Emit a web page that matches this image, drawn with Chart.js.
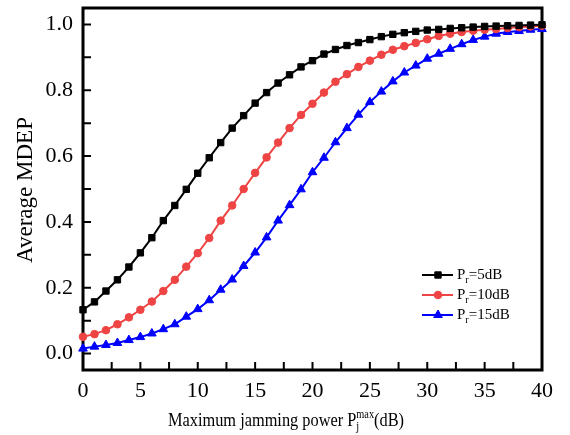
<!DOCTYPE html>
<html>
<head>
<meta charset="utf-8">
<script src="https://cdn.jsdelivr.net/npm/chart.js@4.4.1/dist/chart.umd.min.js"></script>
<style>
  html, body { margin: 0; padding: 0; background: #fff; }
  #wrap { width: 570px; height: 435px; position: relative; }
</style>
</head>
<body>
<div id="wrap"><canvas id="chart"></canvas></div>
<script>
// x: maximum jamming power (dB)
const jamPower = [0, 1, 2, 3, 4, 5, 6, 7, 8, 9, 10, 11, 12, 13, 14, 15, 16, 17, 18, 19, 20,
  21, 22, 23, 24, 25, 26, 27, 28, 29, 30, 31, 32, 33, 34, 35, 36, 37, 38, 39, 40];

// average MDEP
const mdepPr5 = [0.133, 0.157, 0.190, 0.224, 0.263, 0.306, 0.352, 0.404, 0.450, 0.499, 0.548,
  0.595, 0.641, 0.685, 0.723, 0.761, 0.793, 0.822, 0.847, 0.871, 0.890,
  0.910, 0.924, 0.936, 0.945, 0.954, 0.963, 0.970, 0.975, 0.979, 0.983,
  0.985, 0.988, 0.990, 0.992, 0.994, 0.995, 0.996, 0.997, 0.998, 0.999];
const mdepPr10 = [0.051, 0.059, 0.071, 0.089, 0.110, 0.133, 0.158, 0.190, 0.224, 0.264, 0.305,
  0.351, 0.404, 0.450, 0.500, 0.549, 0.596, 0.641, 0.685, 0.725, 0.759,
  0.793, 0.826, 0.849, 0.871, 0.890, 0.908, 0.923, 0.934, 0.944, 0.955,
  0.965, 0.972, 0.977, 0.981, 0.984, 0.986, 0.989, 0.992, 0.994, 0.996];
const mdepPr15 = [0.015, 0.021, 0.026, 0.032, 0.041, 0.050, 0.061, 0.074, 0.089, 0.112, 0.135,
  0.162, 0.194, 0.225, 0.266, 0.307, 0.353, 0.404, 0.451, 0.499, 0.551,
  0.595, 0.642, 0.685, 0.726, 0.764, 0.796, 0.827, 0.854, 0.875, 0.896,
  0.911, 0.926, 0.940, 0.953, 0.963, 0.972, 0.977, 0.980, 0.984, 0.986];

const seriesNames = ["5dB", "10dB", "15dB"];
const xTickValues = [0, 5, 10, 15, 20, 25, 30, 35, 40];
const yTickValues = [0, 0.2, 0.4, 0.6, 0.8, 1.0];

const serif = "'Liberation Serif', 'Times New Roman', serif";

const toPoints = (ys) => jamPower.map((x, i) => ({ x: x, y: ys[i] }));

function makeSet(name, values, color, style, radius) {
  return {
    label: name,
    data: toPoints(values),
    borderColor: color,
    backgroundColor: color,
    borderWidth: 2,
    pointStyle: style,
    pointRadius: radius,
    pointBorderWidth: 1,
    pointBackgroundColor: color,
    pointBorderColor: color,
    tension: 0,
    clip: false
  };
}

// box + inward tick marks, drawn under the lines
const frame = {
  id: "frame",
  beforeDatasetsDraw(chart) {
    const { ctx, chartArea: a, scales: { x, y } } = chart;
    ctx.save();
    ctx.strokeStyle = "#000";
    ctx.lineWidth = 2;
    ctx.beginPath();
    for (let v = 2.5; v < 40; v += 2.5) {
      const px = x.getPixelForValue(v);
      ctx.moveTo(px, a.bottom);
      ctx.lineTo(px, a.bottom - 8);
    }
    for (let v = 0; v <= 1.0001; v += 0.1) {
      const py = y.getPixelForValue(v);
      ctx.moveTo(a.left, py);
      ctx.lineTo(a.left + 8, py);
    }
    ctx.stroke();
    ctx.lineWidth = 3;
    ctx.strokeRect(a.left, a.top, a.right - a.left, a.bottom - a.top);
    ctx.restore();
  }
};

// draws runs of text with sub/superscripts
function drawRich(ctx, parts, x, y) {
  let cx = x;
  parts.forEach(p => {
    ctx.font = p.size + "px " + serif;
    ctx.fillText(p.text, cx, y + (p.dy || 0));
    if (!p.stack) cx += ctx.measureText(p.text).width;
  });
  return cx;
}
function richWidth(ctx, parts) {
  let w = 0;
  parts.forEach(p => {
    ctx.font = p.size + "px " + serif;
    if (!p.stack) w += ctx.measureText(p.text).width;
  });
  return w;
}

const titles = {
  id: "titles",
  afterDraw(chart) {
    const ctx = chart.ctx;
    ctx.save();
    ctx.fillStyle = "#000";
    ctx.textBaseline = "alphabetic";
    ctx.textAlign = "left";

    // x axis title (the original is a little narrow, squeeze it)
    const xt = [
      { text: "Maximum jamming power P", size: 19 },
      { text: "j", size: 12, dy: 4, stack: true },
      { text: "max", size: 12, dy: -8 },
      { text: "(dB)", size: 19 }
    ];
    const sx = 0.86;
    const w = richWidth(ctx, xt) * sx;
    ctx.save();
    ctx.translate(286 - w / 2, 426);
    ctx.scale(sx, 1);
    drawRich(ctx, xt, 0, 0);
    ctx.restore();

    // y axis title
    ctx.translate(26, 190);
    ctx.rotate(-Math.PI / 2);
    ctx.font = "23px " + serif;
    ctx.textAlign = "center";
    ctx.textBaseline = "middle";
    ctx.fillText("Average MDEP", 0, 0);
    ctx.restore();
  }
};

const legendBox = {
  id: "legendBox",
  afterDatasetsDraw(chart) {
    const ctx = chart.ctx;
    const rows = [275, 295, 315];
    ctx.save();
    chart.data.datasets.forEach((ds, i) => {
      const ly = rows[i];
      ctx.strokeStyle = ds.borderColor;
      ctx.fillStyle = ds.borderColor;
      ctx.lineWidth = 2;
      ctx.beginPath();
      ctx.moveTo(422, ly);
      ctx.lineTo(453, ly);
      ctx.stroke();
      ctx.lineWidth = 1;
      Chart.helpers.drawPoint(ctx, {
        pointStyle: ds.pointStyle, radius: ds.pointRadius, rotation: 0, borderWidth: 1
      }, 438, ly);
      ctx.fillStyle = "#000";
      ctx.textBaseline = "middle";
      ctx.textAlign = "left";
      drawRich(ctx, [
        { text: "P", size: 15 },
        { text: "r", size: 10, dy: 5 },
        { text: "=" + seriesNames[i], size: 15 }
      ], 457, ly);
    });
    ctx.restore();
  }
};

new Chart(document.getElementById("chart"), {
  type: "line",
  data: {
    datasets: [
      makeSet(seriesNames[0], mdepPr5, "#000000", "rect", 4.5),
      makeSet(seriesNames[1], mdepPr10, "#ef4444", "circle", 3.8),
      makeSet(seriesNames[2], mdepPr15, "#0000ff", "triangle", 5)
    ]
  },
  options: {
    responsive: true,
    maintainAspectRatio: false,
    animation: false,
    layout: { padding: { top: 8, right: 28, left: 0, bottom: 0 } },
    plugins: {
      legend: { display: false },
      tooltip: { enabled: false }
    },
    scales: {
      x: {
        type: "linear",
        min: 0,
        max: 40,
        grid: { display: false, drawTicks: false },
        border: { display: false },
        afterBuildTicks: s => { s.ticks = xTickValues.map(v => ({ value: v })); },
        afterFit: s => { s.height = 65; s.paddingLeft = 0; s.paddingRight = 0; },
        ticks: {
          padding: 8,
          color: "#000",
          font: { family: serif, size: 22 },
          maxRotation: 0,
          callback: v => String(v)
        }
      },
      y: {
        type: "linear",
        min: -0.05,
        max: 1.05,
        grid: { display: false, drawTicks: false },
        border: { display: false },
        afterBuildTicks: s => { s.ticks = yTickValues.map(v => ({ value: v })); },
        afterFit: s => { s.width = 83; s.paddingTop = 0; s.paddingBottom = 0; },
        ticks: {
          padding: 10,
          color: "#000",
          font: { family: serif, size: 22 },
          callback: v => v.toFixed(1)
        }
      }
    }
  },
  plugins: [frame, legendBox, titles]
});
</script>
</body>
</html>
